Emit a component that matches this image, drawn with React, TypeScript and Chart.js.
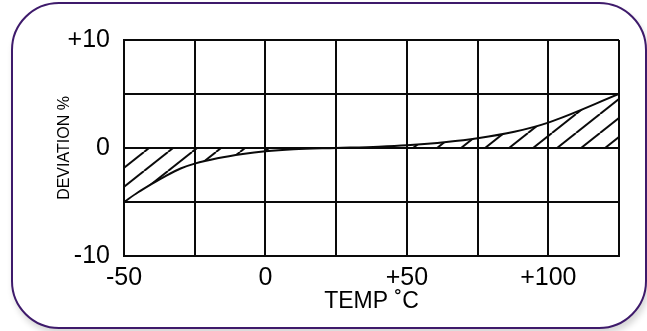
import React, { useEffect, useRef } from "react";
import { Chart, registerables } from "chart.js";

Chart.register(...registerables);

// Temperature (°C) and deviation (%)
const temps = [-50, -45, -40, -35, -30, -25, -17, -8, 0, 10, 25, 40, 50, 64, 75, 88, 100, 125];
const deviation = [-5, -4.1, -3.3, -2.55, -1.9, -1.45, -0.95, -0.55, -0.3, -0.12, 0, 0.12, 0.25, 0.55, 0.9, 1.5, 2.35, 5];

const xTickLabels = ["-50", "", "0", "", "+50", "", "+100", ""];
const yTickLabels = ["-10", "", "0", "", "+10"];

const xTitle = "TEMP \u02DAC";
const yTitle = "DEVIATION %";

function makeHatch(): CanvasPattern | string {
  const w = 24;
  const h = 19;
  const tile = document.createElement("canvas");
  tile.width = w;
  tile.height = h;
  const c = tile.getContext("2d");
  if (!c) return "rgba(0,0,0,0.2)";
  c.strokeStyle = "#0a0a0a";
  c.lineWidth = 2;
  for (let k = -1; k <= 1; k++) {
    c.beginPath();
    c.moveTo(k * w, h);
    c.lineTo(k * w + w, 0);
    c.stroke();
  }
  return c.createPattern(tile, "repeat") || "rgba(0,0,0,0.2)";
}

export default function App() {
  const ref = useRef<HTMLCanvasElement | null>(null);

  useEffect(() => {
    if (!ref.current) return;
    const hatch = makeHatch();
    const chart = new Chart(ref.current, {
      type: "line",
      data: {
        datasets: [
          {
            data: temps.map((t, i) => ({ x: t, y: deviation[i] })),
            borderColor: "#0a0a0a",
            borderWidth: 2,
            pointRadius: 0,
            fill: "origin",
            backgroundColor: hatch as any,
            cubicInterpolationMode: "monotone",
          },
        ],
      },
      options: {
        animation: false,
        responsive: false,
        maintainAspectRatio: false,
        layout: { padding: { left: 0, right: 28, top: 40, bottom: 0 } },
        plugins: {
          legend: { display: false },
          tooltip: { enabled: false },
        },
        scales: {
          x: {
            type: "linear",
            min: -50,
            max: 125,
            afterFit: (s: any) => {
              s.height = 75;
            },
            grid: { color: "#0a0a0a", lineWidth: 2, drawTicks: false },
            border: { color: "#0a0a0a", width: 2 },
            ticks: {
              stepSize: 25,
              autoSkip: false,
              maxRotation: 0,
              padding: 7,
              color: "#000",
              font: { family: "'Liberation Sans', Arial, sans-serif", size: 25 },
              callback: (_v: any, i: number) => xTickLabels[i],
            },
            title: {
              display: true,
              text: xTitle,
              color: "#000",
              font: { family: "'Liberation Sans', Arial, sans-serif", size: 23 },
              padding: { top: 0, bottom: 16 },
            },
          },
          y: {
            type: "linear",
            min: -10,
            max: 10,
            afterFit: (s: any) => {
              s.width = 124;
            },
            grid: { color: "#0a0a0a", lineWidth: 2, drawTicks: false },
            border: { color: "#0a0a0a", width: 2 },
            ticks: {
              stepSize: 5,
              autoSkip: false,
              padding: 14,
              color: "#000",
              font: { family: "'Liberation Sans', Arial, sans-serif", size: 25 },
              callback: (_v: any, i: number) => yTickLabels[i],
            },
            title: {
              display: true,
              text: yTitle,
              color: "#000",
              font: { family: "'Liberation Sans', Arial, sans-serif", size: 16 },
              padding: { top: 55, bottom: 0 },
            },
          },
        },
      },
    });
    return () => chart.destroy();
  }, []);

  return (
    <div
      style={{
        position: "fixed",
        left: 0,
        top: 0,
        width: 647,
        height: 331,
        overflow: "hidden",
        background: "#ffffff",
      }}
    >
      <div
        style={{
          position: "absolute",
          left: 11,
          top: 2,
          width: 636,
          height: 327,
          boxSizing: "border-box",
          border: "2px solid #3e1a6b",
          borderRadius: 48,
          background: "#fff",
          boxShadow: "2px 5px 6px rgba(0,0,0,0.16)",
        }}
      />
      <canvas
        ref={ref}
        width={647}
        height={331}
        style={{ position: "absolute", left: 0, top: 0, width: 647, height: 331 }}
      />
    </div>
  );
}
